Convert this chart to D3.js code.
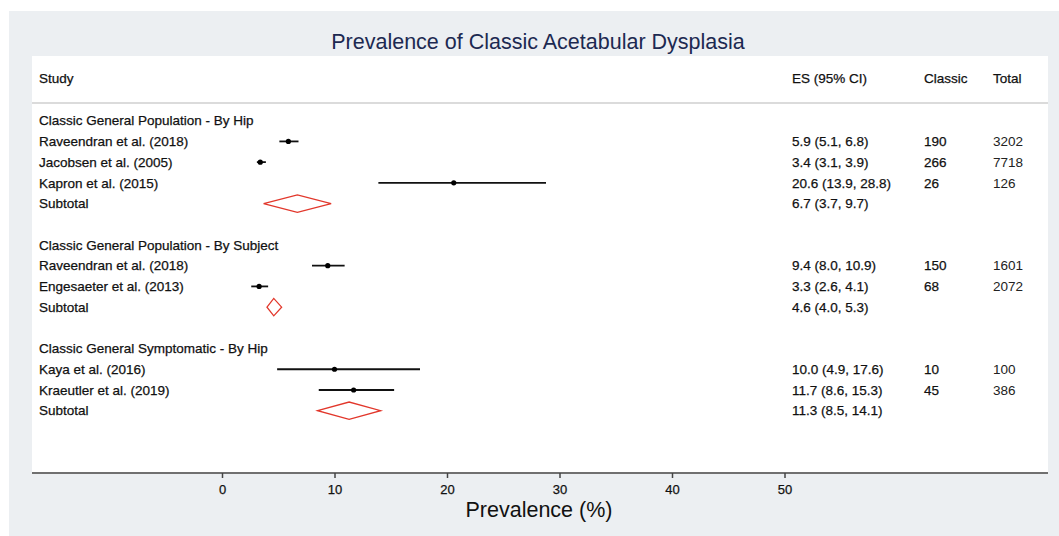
<!DOCTYPE html>
<html>
<head>
<title>Prevalence of Classic Acetabular Dysplasia</title>
<script src="https://d3js.org/d3.v7.min.js"></script>
<style>
  body { margin: 0; background: #fff; }
  text { font-family: "Liberation Sans", Arial, sans-serif; }
  .body-text { stroke: #111; stroke-width: 0.25px; }
</style>
</head>
<body>
<div id="chart"></div>
<script type="text/javascript">

  // data
  const groups = [
    "Classic General Population - By Hip",
    "Classic General Population - By Subject",
    "Classic General Symptomatic - By Hip"
  ];
  const studies = [
    "Raveendran et al. (2018)", "Jacobsen et al. (2005)", "Kapron et al. (2015)",
    "Raveendran et al. (2018)", "Engesaeter et al. (2013)",
    "Kaya et al. (2016)", "Kraeutler et al. (2019)"
  ];
  const studyGroup = [0, 0, 0, 1, 1, 2, 2];
  const es = [5.9, 3.4, 20.6, 9.4, 3.3, 10.0, 11.7];
  const lo = [5.1, 3.1, 13.9, 8.0, 2.6, 4.9, 8.6];
  const hi = [6.8, 3.9, 28.8, 10.9, 4.1, 17.6, 15.3];
  const classic = [190, 266, 26, 150, 68, 10, 45];
  const total = [3202, 7718, 126, 1601, 2072, 100, 386];

  const subEs = [6.7, 4.6, 11.3];
  const subLo = [3.7, 4.0, 8.5];
  const subHi = [9.7, 5.3, 14.1];

  const xTicks = [0, 10, 20, 30, 40, 50];
  const headers = ["Study", "ES (95% CI)", "Classic", "Total"];

  const W = 1059, H = 536;
  const fs = 13.5;

  const svg = d3.select("#chart").append("svg")
    .attr("width", W)
    .attr("height", H);

  // grey panel + white plot region
  svg.append("rect").attr("x", 9).attr("y", 11).attr("width", W - 9).attr("height", H - 11)
    .attr("fill", "#eceff2");
  svg.append("rect").attr("x", 32).attr("y", 56).attr("width", 1016).attr("height", 417)
    .attr("fill", "#fff");

  const x = d3.scaleLinear().domain([0, 50]).range([222, 784.5]);
  const y = d3.scaleLinear().domain([0, 14]).range([120.7, 410.7]);

  // build the row list: group header, studies, subtotal, blank
  let rows = [];
  let r = 0;
  groups.forEach((g, gi) => {
    rows.push({ type: "group", label: g, row: r++ });
    studies.forEach((s, i) => {
      if (studyGroup[i] !== gi) return;
      rows.push({ type: "study", label: s, row: r++, es: es[i], lo: lo[i], hi: hi[i], n: classic[i], tot: total[i] });
    });
    rows.push({ type: "sub", label: "Subtotal", row: r++, es: subEs[gi], lo: subLo[gi], hi: subHi[gi] });
    r++;
  });

  const fmt = d => `${d.es.toFixed(1)} (${d.lo.toFixed(1)}, ${d.hi.toFixed(1)})`;

  // title
  svg.append("text")
    .attr("x", 538).attr("y", 49)
    .attr("text-anchor", "middle")
    .attr("font-size", 21.5)
    .attr("fill", "#1c2951")
    .text("Prevalence of Classic Acetabular Dysplasia");

  // column headers
  const colX = [39, 792, 924, 993];
  svg.selectAll(".hdr").data(headers).enter().append("text")
    .attr("class", "hdr body-text")
    .attr("x", (d, i) => colX[i])
    .attr("y", 78)
    .attr("dy", "0.35em")
    .attr("font-size", fs)
    .attr("fill", "#111")
    .text(d => d);

  svg.append("line")
    .attr("x1", 32).attr("x2", 1048).attr("y1", 103).attr("y2", 103)
    .attr("stroke", "#cfcfcf").attr("stroke-width", 1.5);

  // row labels
  const rowG = svg.selectAll(".row").data(rows).enter().append("g")
    .attr("class", "row")
    .attr("transform", d => `translate(0,${y(d.row)})`);

  rowG.append("text")
    .attr("class", "body-text")
    .attr("x", colX[0]).attr("dy", "0.35em")
    .attr("font-size", fs).attr("fill", "#111")
    .text(d => d.label);

  rowG.filter(d => d.type !== "group").append("text")
    .attr("class", "body-text")
    .attr("x", colX[1]).attr("dy", "0.35em")
    .attr("font-size", fs).attr("fill", "#111")
    .text(fmt);

  const st = rowG.filter(d => d.type === "study");
  st.append("text")
    .attr("class", "body-text")
    .attr("x", colX[2]).attr("dy", "0.35em")
    .attr("font-size", fs).attr("fill", "#111")
    .text(d => d.n);
  st.append("text")
    .attr("x", colX[3]).attr("dy", "0.35em")
    .attr("font-size", fs).attr("fill", "#222")
    .text(d => d.tot);

  // CI lines and point estimates
  st.append("line")
    .attr("x1", d => x(d.lo)).attr("x2", d => x(d.hi))
    .attr("stroke", "#111").attr("stroke-width", 1.8);
  st.append("circle")
    .attr("cx", d => x(d.es)).attr("r", 2.6)
    .attr("fill", "#000");

  // subtotal diamonds
  rowG.filter(d => d.type === "sub").append("path")
    .attr("d", d => `M${x(d.lo)},0L${x(d.es)},-8.7L${x(d.hi)},0L${x(d.es)},8.7Z`)
    .attr("fill", "none")
    .attr("stroke", "#e2372b")
    .attr("stroke-width", 1.3);

  // x axis
  const axisY = 473;
  svg.append("line")
    .attr("x1", 32).attr("x2", 1048).attr("y1", axisY).attr("y2", axisY)
    .attr("stroke", "#707070").attr("stroke-width", 1.8);

  const ax = svg.append("g")
    .attr("transform", `translate(0,${axisY})`)
    .call(d3.axisBottom(x).tickValues(xTicks).tickSize(5).tickPadding(7));
  ax.select(".domain").remove();
  ax.selectAll(".tick line").attr("stroke", "#444").attr("stroke-width", 1.5);
  ax.selectAll(".tick text")
    .attr("font-family", "Liberation Sans, Arial, sans-serif")
    .attr("font-size", 13)
    .attr("fill", "#111")
    .attr("stroke", "#111")
    .attr("stroke-width", 0.25);

  svg.append("text")
    .attr("x", 539).attr("y", 517)
    .attr("text-anchor", "middle")
    .attr("font-size", 21.5)
    .attr("fill", "#111")
    .text("Prevalence (%)");

</script>
</body>
</html>
